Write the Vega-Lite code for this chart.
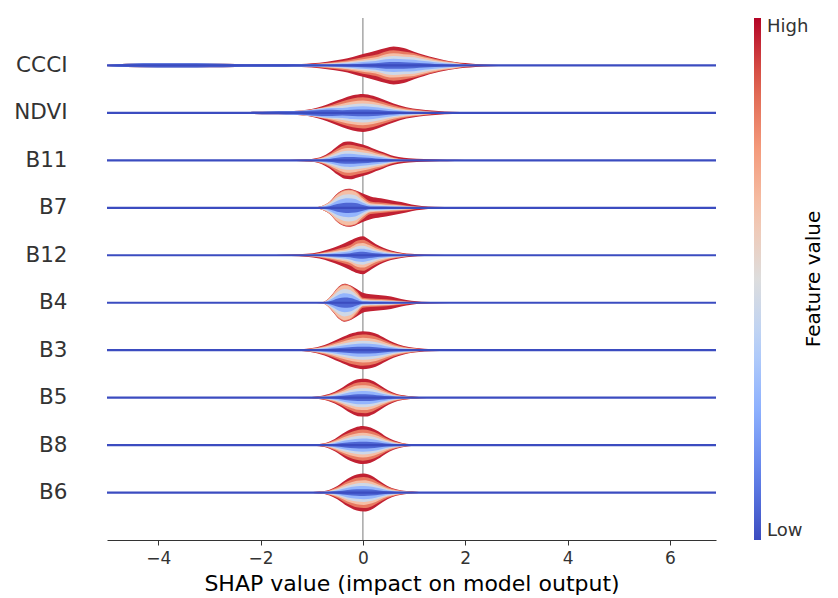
{
"$schema":"https://vega.github.io/schema/vega-lite/v6.json",
"width":609,"height":522,
"autosize":"none",
"padding":{"left":107,"top":18,"right":122,"bottom":58},
"config":{"view":{"stroke":null},"font":"DejaVu Sans",
 "axisX":{"domainColor":"#333333","tickColor":"#333333","labelColor":"#333333","labelFontSize":17,"titleFontSize":22,"titleFontWeight":"normal","titleColor":"#000000","tickSize":5,"grid":false,"labelPadding":5,"titlePadding":7},
 "legend":{"gradientStrokeWidth":0}},
"datasets":{"v":[
{"f":"CCCI","x":-5,"a":0.01,"b":0.01,"c":0.01,"d":0.01,"e":0.01,"g":0.01},
{"f":"CCCI","x":-4.6,"a":0.035,"b":0.035,"c":0.035,"d":0.035,"e":0.035,"g":0.035},
{"f":"CCCI","x":-4.0,"a":0.045,"b":0.045,"c":0.045,"d":0.045,"e":0.045,"g":0.045},
{"f":"CCCI","x":-3.5,"a":0.045,"b":0.045,"c":0.045,"d":0.045,"e":0.045,"g":0.045},
{"f":"CCCI","x":-3.0,"a":0.04,"b":0.04,"c":0.04,"d":0.04,"e":0.04,"g":0.04},
{"f":"CCCI","x":-2.5,"a":0.03,"b":0.03,"c":0.03,"d":0.03,"e":0.03,"g":0.03},
{"f":"CCCI","x":-2.0,"a":0.025,"b":0.025,"c":0.025,"d":0.025,"e":0.025,"g":0.025},
{"f":"CCCI","x":-1.5,"a":0.025,"b":0.025,"c":0.025,"d":0.025,"e":0.025,"g":0.025},
{"f":"CCCI","x":-1.2,"a":0.03,"b":0.027,"c":0.026,"d":0.024,"e":0.023,"g":0.021},
{"f":"CCCI","x":-1.0,"a":0.045,"b":0.032,"c":0.027,"d":0.025,"e":0.023,"g":0.018},
{"f":"CCCI","x":-0.7,"a":0.08,"b":0.058,"c":0.044,"d":0.034,"e":0.024,"g":0.012},
{"f":"CCCI","x":-0.4,"a":0.13,"b":0.094,"c":0.072,"d":0.055,"e":0.039,"g":0.02},
{"f":"CCCI","x":-0.2,"a":0.18,"b":0.13,"c":0.099,"d":0.076,"e":0.054,"g":0.027},
{"f":"CCCI","x":0.0,"a":0.24,"b":0.173,"c":0.132,"d":0.101,"e":0.072,"g":0.036},
{"f":"CCCI","x":0.25,"a":0.31,"b":0.223,"c":0.171,"d":0.13,"e":0.093,"g":0.047},
{"f":"CCCI","x":0.45,"a":0.37,"b":0.296,"c":0.237,"d":0.185,"e":0.13,"g":0.067},
{"f":"CCCI","x":0.6,"a":0.4,"b":0.32,"c":0.256,"d":0.2,"e":0.14,"g":0.072},
{"f":"CCCI","x":0.8,"a":0.37,"b":0.296,"c":0.237,"d":0.185,"e":0.13,"g":0.067},
{"f":"CCCI","x":1.0,"a":0.29,"b":0.255,"c":0.22,"d":0.174,"e":0.122,"g":0.058},
{"f":"CCCI","x":1.2,"a":0.22,"b":0.194,"c":0.167,"d":0.132,"e":0.092,"g":0.044},
{"f":"CCCI","x":1.4,"a":0.16,"b":0.141,"c":0.122,"d":0.096,"e":0.067,"g":0.032},
{"f":"CCCI","x":1.6,"a":0.11,"b":0.097,"c":0.084,"d":0.066,"e":0.046,"g":0.022},
{"f":"CCCI","x":1.8,"a":0.075,"b":0.066,"c":0.057,"d":0.045,"e":0.032,"g":0.015},
{"f":"CCCI","x":2.0,"a":0.05,"b":0.03,"c":0.023,"d":0.018,"e":0.013,"g":0.006},
{"f":"CCCI","x":2.2,"a":0.03,"b":0.018,"c":0.014,"d":0.011,"e":0.008,"g":0.004},
{"f":"CCCI","x":2.5,"a":0.015,"b":0.009,"c":0.007,"d":0.005,"e":0.004,"g":0.002},
{"f":"CCCI","x":2.8,"a":0.008,"b":0.005,"c":0.004,"d":0.003,"e":0.002,"g":0.001},
{"f":"CCCI","x":3.1,"a":0,"b":0,"c":0,"d":0,"e":0,"g":0},
{"f":"NDVI","x":-2.6,"a":0.005,"b":0.005,"c":0.005,"d":0.005,"e":0.005,"g":0.005},
{"f":"NDVI","x":-2.2,"a":0.02,"b":0.02,"c":0.02,"d":0.02,"e":0.02,"g":0.02},
{"f":"NDVI","x":-1.8,"a":0.03,"b":0.03,"c":0.03,"d":0.03,"e":0.03,"g":0.03},
{"f":"NDVI","x":-1.5,"a":0.035,"b":0.035,"c":0.035,"d":0.035,"e":0.035,"g":0.035},
{"f":"NDVI","x":-1.2,"a":0.05,"b":0.048,"c":0.046,"d":0.045,"e":0.044,"g":0.04},
{"f":"NDVI","x":-1.0,"a":0.08,"b":0.072,"c":0.068,"d":0.066,"e":0.062,"g":0.052},
{"f":"NDVI","x":-0.8,"a":0.14,"b":0.115,"c":0.105,"d":0.098,"e":0.087,"g":0.063},
{"f":"NDVI","x":-0.6,"a":0.22,"b":0.172,"c":0.143,"d":0.123,"e":0.103,"g":0.066},
{"f":"NDVI","x":-0.4,"a":0.3,"b":0.246,"c":0.195,"d":0.15,"e":0.105,"g":0.054},
{"f":"NDVI","x":-0.2,"a":0.37,"b":0.303,"c":0.241,"d":0.185,"e":0.13,"g":0.067},
{"f":"NDVI","x":0.0,"a":0.4,"b":0.328,"c":0.26,"d":0.2,"e":0.14,"g":0.072},
{"f":"NDVI","x":0.2,"a":0.36,"b":0.295,"c":0.234,"d":0.18,"e":0.126,"g":0.065},
{"f":"NDVI","x":0.4,"a":0.28,"b":0.23,"c":0.182,"d":0.14,"e":0.098,"g":0.05},
{"f":"NDVI","x":0.6,"a":0.2,"b":0.16,"c":0.124,"d":0.094,"e":0.066,"g":0.034},
{"f":"NDVI","x":0.85,"a":0.12,"b":0.096,"c":0.074,"d":0.056,"e":0.04,"g":0.02},
{"f":"NDVI","x":1.1,"a":0.075,"b":0.06,"c":0.047,"d":0.035,"e":0.025,"g":0.013},
{"f":"NDVI","x":1.35,"a":0.05,"b":0.03,"c":0.023,"d":0.018,"e":0.013,"g":0.006},
{"f":"NDVI","x":1.6,"a":0.03,"b":0.018,"c":0.014,"d":0.011,"e":0.008,"g":0.004},
{"f":"NDVI","x":1.9,"a":0.02,"b":0.012,"c":0.009,"d":0.007,"e":0.005,"g":0.002},
{"f":"NDVI","x":2.3,"a":0.012,"b":0.007,"c":0.005,"d":0.004,"e":0.003,"g":0.001},
{"f":"NDVI","x":2.7,"a":0.008,"b":0.005,"c":0.004,"d":0.003,"e":0.002,"g":0.001},
{"f":"NDVI","x":3.1,"a":0,"b":0,"c":0,"d":0,"e":0,"g":0},
{"f":"B11","x":-2.0,"a":0,"b":0,"c":0,"d":0,"e":0,"g":0},
{"f":"B11","x":-1.6,"a":0.008,"b":0.007,"c":0.005,"d":0.004,"e":0.003,"g":0.001},
{"f":"B11","x":-1.3,"a":0.015,"b":0.012,"c":0.01,"d":0.008,"e":0.005,"g":0.003},
{"f":"B11","x":-1.0,"a":0.03,"b":0.025,"c":0.02,"d":0.015,"e":0.011,"g":0.005},
{"f":"B11","x":-0.8,"a":0.08,"b":0.066,"c":0.052,"d":0.04,"e":0.028,"g":0.014},
{"f":"B11","x":-0.65,"a":0.17,"b":0.139,"c":0.111,"d":0.085,"e":0.06,"g":0.031},
{"f":"B11","x":-0.5,"a":0.3,"b":0.246,"c":0.195,"d":0.15,"e":0.105,"g":0.054},
{"f":"B11","x":-0.35,"a":0.39,"b":0.32,"c":0.254,"d":0.195,"e":0.137,"g":0.07},
{"f":"B11","x":-0.25,"a":0.4,"b":0.328,"c":0.26,"d":0.2,"e":0.14,"g":0.072},
{"f":"B11","x":-0.1,"a":0.36,"b":0.295,"c":0.234,"d":0.18,"e":0.126,"g":0.065},
{"f":"B11","x":0.1,"a":0.3,"b":0.246,"c":0.195,"d":0.15,"e":0.105,"g":0.054},
{"f":"B11","x":0.25,"a":0.23,"b":0.189,"c":0.15,"d":0.115,"e":0.081,"g":0.041},
{"f":"B11","x":0.4,"a":0.17,"b":0.139,"c":0.111,"d":0.085,"e":0.06,"g":0.031},
{"f":"B11","x":0.55,"a":0.11,"b":0.077,"c":0.061,"d":0.046,"e":0.033,"g":0.017},
{"f":"B11","x":0.7,"a":0.07,"b":0.039,"c":0.029,"d":0.022,"e":0.015,"g":0.008},
{"f":"B11","x":0.9,"a":0.045,"b":0.018,"c":0.014,"d":0.01,"e":0.007,"g":0.004},
{"f":"B11","x":1.2,"a":0.03,"b":0.012,"c":0.009,"d":0.007,"e":0.005,"g":0.002},
{"f":"B11","x":1.5,"a":0.02,"b":0.008,"c":0.006,"d":0.004,"e":0.003,"g":0.002},
{"f":"B11","x":1.8,"a":0.013,"b":0.005,"c":0.004,"d":0.003,"e":0.002,"g":0.001},
{"f":"B11","x":2.2,"a":0.005,"b":0.002,"c":0.002,"d":0.001,"e":0.001,"g":0},
{"f":"B11","x":2.5,"a":0,"b":0,"c":0,"d":0,"e":0,"g":0},
{"f":"B7","x":-1.2,"a":0,"b":0,"c":0,"d":0,"e":0,"g":0},
{"f":"B7","x":-0.95,"a":0.01,"b":0.01,"c":0.009,"d":0.007,"e":0.005,"g":0.003},
{"f":"B7","x":-0.8,"a":0.04,"b":0.039,"c":0.037,"d":0.029,"e":0.02,"g":0.011},
{"f":"B7","x":-0.65,"a":0.13,"b":0.126,"c":0.12,"d":0.094,"e":0.065,"g":0.035},
{"f":"B7","x":-0.5,"a":0.3,"b":0.291,"c":0.276,"d":0.216,"e":0.15,"g":0.081},
{"f":"B7","x":-0.38,"a":0.38,"b":0.369,"c":0.35,"d":0.274,"e":0.19,"g":0.103},
{"f":"B7","x":-0.28,"a":0.4,"b":0.388,"c":0.368,"d":0.288,"e":0.2,"g":0.108},
{"f":"B7","x":-0.15,"a":0.37,"b":0.359,"c":0.34,"d":0.266,"e":0.185,"g":0.1},
{"f":"B7","x":0.0,"a":0.3,"b":0.24,"c":0.195,"d":0.15,"e":0.105,"g":0.06},
{"f":"B7","x":0.15,"a":0.24,"b":0.132,"c":0.096,"d":0.072,"e":0.048,"g":0.024},
{"f":"B7","x":0.35,"a":0.2,"b":0.11,"c":0.08,"d":0.06,"e":0.04,"g":0.02},
{"f":"B7","x":0.55,"a":0.16,"b":0.088,"c":0.064,"d":0.048,"e":0.032,"g":0.016},
{"f":"B7","x":0.75,"a":0.12,"b":0.066,"c":0.048,"d":0.036,"e":0.024,"g":0.012},
{"f":"B7","x":0.95,"a":0.07,"b":0.039,"c":0.028,"d":0.021,"e":0.014,"g":0.007},
{"f":"B7","x":1.15,"a":0.04,"b":0.022,"c":0.016,"d":0.012,"e":0.008,"g":0.004},
{"f":"B7","x":1.4,"a":0.02,"b":0.01,"c":0.008,"d":0.006,"e":0.004,"g":0.002},
{"f":"B7","x":1.8,"a":0.01,"b":0.005,"c":0.004,"d":0.003,"e":0.002,"g":0.001},
{"f":"B7","x":2.2,"a":0.004,"b":0.002,"c":0.002,"d":0.001,"e":0.001,"g":0},
{"f":"B7","x":2.5,"a":0,"b":0,"c":0,"d":0,"e":0,"g":0},
{"f":"B12","x":-2.1,"a":0,"b":0,"c":0,"d":0,"e":0,"g":0},
{"f":"B12","x":-1.7,"a":0.008,"b":0.005,"c":0.004,"d":0.003,"e":0.002,"g":0.001},
{"f":"B12","x":-1.4,"a":0.015,"b":0.009,"c":0.007,"d":0.005,"e":0.004,"g":0.002},
{"f":"B12","x":-1.1,"a":0.03,"b":0.018,"c":0.014,"d":0.011,"e":0.008,"g":0.004},
{"f":"B12","x":-0.85,"a":0.07,"b":0.049,"c":0.036,"d":0.028,"e":0.02,"g":0.01},
{"f":"B12","x":-0.65,"a":0.13,"b":0.091,"c":0.068,"d":0.052,"e":0.036,"g":0.018},
{"f":"B12","x":-0.45,"a":0.21,"b":0.147,"c":0.109,"d":0.084,"e":0.059,"g":0.029},
{"f":"B12","x":-0.25,"a":0.31,"b":0.217,"c":0.161,"d":0.124,"e":0.087,"g":0.043},
{"f":"B12","x":-0.1,"a":0.38,"b":0.312,"c":0.247,"d":0.19,"e":0.133,"g":0.068},
{"f":"B12","x":0.0,"a":0.4,"b":0.328,"c":0.26,"d":0.2,"e":0.14,"g":0.072},
{"f":"B12","x":0.12,"a":0.33,"b":0.271,"c":0.215,"d":0.165,"e":0.116,"g":0.059},
{"f":"B12","x":0.25,"a":0.24,"b":0.192,"c":0.149,"d":0.113,"e":0.079,"g":0.041},
{"f":"B12","x":0.4,"a":0.16,"b":0.128,"c":0.099,"d":0.075,"e":0.053,"g":0.027},
{"f":"B12","x":0.55,"a":0.1,"b":0.08,"c":0.062,"d":0.047,"e":0.033,"g":0.017},
{"f":"B12","x":0.75,"a":0.055,"b":0.044,"c":0.034,"d":0.026,"e":0.018,"g":0.009},
{"f":"B12","x":0.95,"a":0.03,"b":0.015,"c":0.011,"d":0.008,"e":0.006,"g":0.003},
{"f":"B12","x":1.2,"a":0.015,"b":0.008,"c":0.006,"d":0.004,"e":0.003,"g":0.002},
{"f":"B12","x":1.6,"a":0.006,"b":0.003,"c":0.002,"d":0.002,"e":0.001,"g":0.001},
{"f":"B12","x":2.0,"a":0,"b":0,"c":0,"d":0,"e":0,"g":0},
{"f":"B4","x":-1.0,"a":0,"b":0,"c":0,"d":0,"e":0,"g":0},
{"f":"B4","x":-0.8,"a":0.01,"b":0.01,"c":0.009,"d":0.007,"e":0.005,"g":0.003},
{"f":"B4","x":-0.68,"a":0.08,"b":0.078,"c":0.074,"d":0.058,"e":0.04,"g":0.022},
{"f":"B4","x":-0.58,"a":0.2,"b":0.194,"c":0.184,"d":0.144,"e":0.1,"g":0.054},
{"f":"B4","x":-0.47,"a":0.34,"b":0.33,"c":0.313,"d":0.245,"e":0.17,"g":0.092},
{"f":"B4","x":-0.36,"a":0.4,"b":0.388,"c":0.368,"d":0.288,"e":0.2,"g":0.108},
{"f":"B4","x":-0.25,"a":0.37,"b":0.359,"c":0.34,"d":0.266,"e":0.185,"g":0.1},
{"f":"B4","x":-0.12,"a":0.29,"b":0.247,"c":0.203,"d":0.16,"e":0.11,"g":0.058},
{"f":"B4","x":0.0,"a":0.21,"b":0.105,"c":0.076,"d":0.057,"e":0.038,"g":0.019},
{"f":"B4","x":0.15,"a":0.18,"b":0.09,"c":0.065,"d":0.049,"e":0.032,"g":0.016},
{"f":"B4","x":0.35,"a":0.16,"b":0.08,"c":0.058,"d":0.043,"e":0.029,"g":0.014},
{"f":"B4","x":0.55,"a":0.13,"b":0.065,"c":0.047,"d":0.035,"e":0.023,"g":0.012},
{"f":"B4","x":0.75,"a":0.08,"b":0.04,"c":0.029,"d":0.022,"e":0.014,"g":0.007},
{"f":"B4","x":0.95,"a":0.04,"b":0.02,"c":0.014,"d":0.011,"e":0.007,"g":0.004},
{"f":"B4","x":1.15,"a":0.02,"b":0.01,"c":0.007,"d":0.005,"e":0.004,"g":0.002},
{"f":"B4","x":1.5,"a":0.01,"b":0.005,"c":0.004,"d":0.003,"e":0.002,"g":0.001},
{"f":"B4","x":1.9,"a":0.005,"b":0.003,"c":0.002,"d":0.001,"e":0.001,"g":0},
{"f":"B4","x":2.3,"a":0,"b":0,"c":0,"d":0,"e":0,"g":0},
{"f":"B3","x":-1.9,"a":0,"b":0,"c":0,"d":0,"e":0,"g":0},
{"f":"B3","x":-1.6,"a":0.005,"b":0.003,"c":0.002,"d":0.002,"e":0.001,"g":0.001},
{"f":"B3","x":-1.35,"a":0.012,"b":0.007,"c":0.005,"d":0.004,"e":0.003,"g":0.001},
{"f":"B3","x":-1.05,"a":0.035,"b":0.029,"c":0.023,"d":0.018,"e":0.012,"g":0.006},
{"f":"B3","x":-0.75,"a":0.11,"b":0.09,"c":0.072,"d":0.055,"e":0.039,"g":0.02},
{"f":"B3","x":-0.45,"a":0.25,"b":0.205,"c":0.163,"d":0.125,"e":0.088,"g":0.045},
{"f":"B3","x":-0.2,"a":0.36,"b":0.295,"c":0.234,"d":0.18,"e":0.126,"g":0.065},
{"f":"B3","x":0.0,"a":0.4,"b":0.328,"c":0.26,"d":0.2,"e":0.14,"g":0.072},
{"f":"B3","x":0.25,"a":0.35,"b":0.287,"c":0.228,"d":0.175,"e":0.123,"g":0.063},
{"f":"B3","x":0.45,"a":0.24,"b":0.197,"c":0.156,"d":0.12,"e":0.084,"g":0.043},
{"f":"B3","x":0.6,"a":0.16,"b":0.131,"c":0.104,"d":0.08,"e":0.056,"g":0.029},
{"f":"B3","x":0.8,"a":0.09,"b":0.074,"c":0.059,"d":0.045,"e":0.032,"g":0.016},
{"f":"B3","x":1.0,"a":0.05,"b":0.041,"c":0.033,"d":0.025,"e":0.018,"g":0.009},
{"f":"B3","x":1.2,"a":0.03,"b":0.018,"c":0.014,"d":0.011,"e":0.008,"g":0.004},
{"f":"B3","x":1.5,"a":0.015,"b":0.009,"c":0.007,"d":0.005,"e":0.004,"g":0.002},
{"f":"B3","x":1.9,"a":0.005,"b":0.003,"c":0.002,"d":0.002,"e":0.001,"g":0.001},
{"f":"B3","x":2.3,"a":0,"b":0,"c":0,"d":0,"e":0,"g":0},
{"f":"B5","x":-1.6,"a":0,"b":0,"c":0,"d":0,"e":0,"g":0},
{"f":"B5","x":-1.3,"a":0.006,"b":0.005,"c":0.004,"d":0.003,"e":0.002,"g":0.001},
{"f":"B5","x":-1.0,"a":0.015,"b":0.012,"c":0.01,"d":0.008,"e":0.005,"g":0.003},
{"f":"B5","x":-0.8,"a":0.04,"b":0.033,"c":0.026,"d":0.02,"e":0.014,"g":0.007},
{"f":"B5","x":-0.65,"a":0.08,"b":0.066,"c":0.052,"d":0.04,"e":0.028,"g":0.014},
{"f":"B5","x":-0.45,"a":0.18,"b":0.148,"c":0.117,"d":0.09,"e":0.063,"g":0.032},
{"f":"B5","x":-0.25,"a":0.32,"b":0.262,"c":0.208,"d":0.16,"e":0.112,"g":0.058},
{"f":"B5","x":-0.1,"a":0.39,"b":0.32,"c":0.254,"d":0.195,"e":0.137,"g":0.07},
{"f":"B5","x":0.05,"a":0.4,"b":0.328,"c":0.26,"d":0.2,"e":0.14,"g":0.072},
{"f":"B5","x":0.2,"a":0.35,"b":0.287,"c":0.228,"d":0.175,"e":0.123,"g":0.063},
{"f":"B5","x":0.35,"a":0.25,"b":0.205,"c":0.163,"d":0.125,"e":0.088,"g":0.045},
{"f":"B5","x":0.5,"a":0.15,"b":0.123,"c":0.098,"d":0.075,"e":0.053,"g":0.027},
{"f":"B5","x":0.65,"a":0.08,"b":0.066,"c":0.052,"d":0.04,"e":0.028,"g":0.014},
{"f":"B5","x":0.85,"a":0.04,"b":0.033,"c":0.026,"d":0.02,"e":0.014,"g":0.007},
{"f":"B5","x":1.1,"a":0.015,"b":0.012,"c":0.01,"d":0.008,"e":0.005,"g":0.003},
{"f":"B5","x":1.4,"a":0.008,"b":0.007,"c":0.005,"d":0.004,"e":0.003,"g":0.001},
{"f":"B5","x":1.8,"a":0,"b":0,"c":0,"d":0,"e":0,"g":0},
{"f":"B8","x":-1.5,"a":0,"b":0,"c":0,"d":0,"e":0,"g":0},
{"f":"B8","x":-1.2,"a":0.006,"b":0.005,"c":0.004,"d":0.003,"e":0.002,"g":0.001},
{"f":"B8","x":-0.95,"a":0.015,"b":0.012,"c":0.01,"d":0.008,"e":0.005,"g":0.003},
{"f":"B8","x":-0.75,"a":0.04,"b":0.033,"c":0.026,"d":0.02,"e":0.014,"g":0.007},
{"f":"B8","x":-0.55,"a":0.13,"b":0.107,"c":0.085,"d":0.065,"e":0.046,"g":0.023},
{"f":"B8","x":-0.35,"a":0.27,"b":0.221,"c":0.176,"d":0.135,"e":0.095,"g":0.049},
{"f":"B8","x":-0.15,"a":0.37,"b":0.303,"c":0.241,"d":0.185,"e":0.13,"g":0.067},
{"f":"B8","x":0.0,"a":0.4,"b":0.328,"c":0.26,"d":0.2,"e":0.14,"g":0.072},
{"f":"B8","x":0.15,"a":0.37,"b":0.303,"c":0.241,"d":0.185,"e":0.13,"g":0.067},
{"f":"B8","x":0.3,"a":0.29,"b":0.238,"c":0.189,"d":0.145,"e":0.102,"g":0.052},
{"f":"B8","x":0.45,"a":0.18,"b":0.148,"c":0.117,"d":0.09,"e":0.063,"g":0.032},
{"f":"B8","x":0.6,"a":0.1,"b":0.082,"c":0.065,"d":0.05,"e":0.035,"g":0.018},
{"f":"B8","x":0.75,"a":0.05,"b":0.041,"c":0.033,"d":0.025,"e":0.018,"g":0.009},
{"f":"B8","x":0.95,"a":0.02,"b":0.016,"c":0.013,"d":0.01,"e":0.007,"g":0.004},
{"f":"B8","x":1.2,"a":0.01,"b":0.008,"c":0.007,"d":0.005,"e":0.004,"g":0.002},
{"f":"B8","x":1.6,"a":0.004,"b":0.003,"c":0.003,"d":0.002,"e":0.001,"g":0.001},
{"f":"B8","x":1.9,"a":0,"b":0,"c":0,"d":0,"e":0,"g":0},
{"f":"B6","x":-1.4,"a":0,"b":0,"c":0,"d":0,"e":0,"g":0},
{"f":"B6","x":-1.1,"a":0.006,"b":0.005,"c":0.004,"d":0.003,"e":0.002,"g":0.001},
{"f":"B6","x":-0.85,"a":0.02,"b":0.016,"c":0.013,"d":0.01,"e":0.007,"g":0.004},
{"f":"B6","x":-0.65,"a":0.06,"b":0.049,"c":0.039,"d":0.03,"e":0.021,"g":0.011},
{"f":"B6","x":-0.5,"a":0.14,"b":0.115,"c":0.091,"d":0.07,"e":0.049,"g":0.025},
{"f":"B6","x":-0.3,"a":0.29,"b":0.238,"c":0.189,"d":0.145,"e":0.102,"g":0.052},
{"f":"B6","x":-0.12,"a":0.38,"b":0.312,"c":0.247,"d":0.19,"e":0.133,"g":0.068},
{"f":"B6","x":0.02,"a":0.4,"b":0.328,"c":0.26,"d":0.2,"e":0.14,"g":0.072},
{"f":"B6","x":0.18,"a":0.35,"b":0.287,"c":0.228,"d":0.175,"e":0.123,"g":0.063},
{"f":"B6","x":0.32,"a":0.25,"b":0.205,"c":0.163,"d":0.125,"e":0.088,"g":0.045},
{"f":"B6","x":0.48,"a":0.14,"b":0.115,"c":0.091,"d":0.07,"e":0.049,"g":0.025},
{"f":"B6","x":0.65,"a":0.07,"b":0.057,"c":0.046,"d":0.035,"e":0.025,"g":0.013},
{"f":"B6","x":0.85,"a":0.03,"b":0.025,"c":0.02,"d":0.015,"e":0.011,"g":0.005},
{"f":"B6","x":1.1,"a":0.012,"b":0.01,"c":0.008,"d":0.006,"e":0.004,"g":0.002},
{"f":"B6","x":1.5,"a":0.005,"b":0.004,"c":0.003,"d":0.003,"e":0.002,"g":0.001},
{"f":"B6","x":1.9,"a":0,"b":0,"c":0,"d":0,"e":0,"g":0}
],
"keys":[{"k":"a","v":0.96},{"k":"b","v":0.82},{"k":"c","v":0.64},{"k":"d","v":0.45},{"k":"e","v":0.27},{"k":"g","v":0.06}],
"feats":[{"f":"CCCI"},{"f":"NDVI"},{"f":"B11"},{"f":"B7"},{"f":"B12"},{"f":"B4"},{"f":"B3"},{"f":"B5"},{"f":"B8"},{"f":"B6"}]
},
"layer":[
{"data":{"values":[{}]},"mark":{"type":"rule","color":"#999999","strokeWidth":1.3},
 "encoding":{"x":{"datum":0,"type":"quantitative","scale":{"domain":[-5,6.9],"nice":false,"zero":false},"title":"SHAP value (impact on model output)","axis":{"values":[-4,-2,0,2,4,6]}}}},
{"data":{"name":"v"},
 "transform":[{"fold":["a","b","c","d","e","g"],"as":["k","w"]},{"lookup":"k","from":{"data":{"name":"keys"},"key":"k","fields":["v"]}}],
 "encoding":{
  "x":{"field":"x","type":"quantitative","scale":{"domain":[-5,6.9],"nice":false,"zero":false},"title":"SHAP value (impact on model output)","axis":{"values":[-4,-2,0,2,4,6]}},
  "color":{"field":"v","type":"quantitative",
   "scale":{"domain":[0,0.125,0.25,0.375,0.5,0.625,0.75,0.875,1],"range":["#3b4cc0","#6282ea","#8db0fe","#b8d0f9","#dddddd","#f5c4ac","#f49a7b","#de604d","#b40426"],"interpolate":"rgb"},
   "legend":{"type":"gradient","direction":"vertical","orient":"right","offset":38,"gradientLength":522,"gradientThickness":7,"values":[0,1],"labelExpr":"datum.value === 0 ? 'Low' : 'High'","labelFontSize":18,"labelColor":"#333333","labelBaseline":"middle","labelOffset":6,"title":"Feature value","titleOrient":"right","titleAnchor":"middle","titleFontSize":20,"titleFontWeight":"normal","titleColor":"#000000","titlePadding":16,
    "encode":{"title":{"update":{"angle":{"value":270}}}}}}},
 "layer":[
  {"transform":[{"filter":{"field":"f","equal":"CCCI"}}],"layer":[
   {"mark":{"type":"area","interpolate":"monotone"},"encoding":{"y":{"field":"w","type":"quantitative","stack":null,"scale":{"domain":[-10,1],"nice":false,"zero":false},"axis":null},"y2":{"datum":0}}},
   {"mark":{"type":"area","interpolate":"monotone"},"encoding":{"y":{"field":"w","type":"quantitative","stack":null,"scale":{"domain":[-1,10],"reverse":true,"nice":false,"zero":false},"axis":null},"y2":{"datum":0}}}
  ],"resolve":{"scale":{"y":"independent"}}},
  {"transform":[{"filter":{"field":"f","equal":"NDVI"}}],"layer":[
   {"mark":{"type":"area","interpolate":"monotone"},"encoding":{"y":{"field":"w","type":"quantitative","stack":null,"scale":{"domain":[-9,2],"nice":false,"zero":false},"axis":null},"y2":{"datum":0}}},
   {"mark":{"type":"area","interpolate":"monotone"},"encoding":{"y":{"field":"w","type":"quantitative","stack":null,"scale":{"domain":[-2,9],"reverse":true,"nice":false,"zero":false},"axis":null},"y2":{"datum":0}}}
  ],"resolve":{"scale":{"y":"independent"}}},
  {"transform":[{"filter":{"field":"f","equal":"B11"}}],"layer":[
   {"mark":{"type":"area","interpolate":"monotone"},"encoding":{"y":{"field":"w","type":"quantitative","stack":null,"scale":{"domain":[-8,3],"nice":false,"zero":false},"axis":null},"y2":{"datum":0}}},
   {"mark":{"type":"area","interpolate":"monotone"},"encoding":{"y":{"field":"w","type":"quantitative","stack":null,"scale":{"domain":[-3,8],"reverse":true,"nice":false,"zero":false},"axis":null},"y2":{"datum":0}}}
  ],"resolve":{"scale":{"y":"independent"}}},
  {"transform":[{"filter":{"field":"f","equal":"B7"}}],"layer":[
   {"mark":{"type":"area","interpolate":"monotone"},"encoding":{"y":{"field":"w","type":"quantitative","stack":null,"scale":{"domain":[-7,4],"nice":false,"zero":false},"axis":null},"y2":{"datum":0}}},
   {"mark":{"type":"area","interpolate":"monotone"},"encoding":{"y":{"field":"w","type":"quantitative","stack":null,"scale":{"domain":[-4,7],"reverse":true,"nice":false,"zero":false},"axis":null},"y2":{"datum":0}}}
  ],"resolve":{"scale":{"y":"independent"}}},
  {"transform":[{"filter":{"field":"f","equal":"B12"}}],"layer":[
   {"mark":{"type":"area","interpolate":"monotone"},"encoding":{"y":{"field":"w","type":"quantitative","stack":null,"scale":{"domain":[-6,5],"nice":false,"zero":false},"axis":null},"y2":{"datum":0}}},
   {"mark":{"type":"area","interpolate":"monotone"},"encoding":{"y":{"field":"w","type":"quantitative","stack":null,"scale":{"domain":[-5,6],"reverse":true,"nice":false,"zero":false},"axis":null},"y2":{"datum":0}}}
  ],"resolve":{"scale":{"y":"independent"}}},
  {"transform":[{"filter":{"field":"f","equal":"B4"}}],"layer":[
   {"mark":{"type":"area","interpolate":"monotone"},"encoding":{"y":{"field":"w","type":"quantitative","stack":null,"scale":{"domain":[-5,6],"nice":false,"zero":false},"axis":null},"y2":{"datum":0}}},
   {"mark":{"type":"area","interpolate":"monotone"},"encoding":{"y":{"field":"w","type":"quantitative","stack":null,"scale":{"domain":[-6,5],"reverse":true,"nice":false,"zero":false},"axis":null},"y2":{"datum":0}}}
  ],"resolve":{"scale":{"y":"independent"}}},
  {"transform":[{"filter":{"field":"f","equal":"B3"}}],"layer":[
   {"mark":{"type":"area","interpolate":"monotone"},"encoding":{"y":{"field":"w","type":"quantitative","stack":null,"scale":{"domain":[-4,7],"nice":false,"zero":false},"axis":null},"y2":{"datum":0}}},
   {"mark":{"type":"area","interpolate":"monotone"},"encoding":{"y":{"field":"w","type":"quantitative","stack":null,"scale":{"domain":[-7,4],"reverse":true,"nice":false,"zero":false},"axis":null},"y2":{"datum":0}}}
  ],"resolve":{"scale":{"y":"independent"}}},
  {"transform":[{"filter":{"field":"f","equal":"B5"}}],"layer":[
   {"mark":{"type":"area","interpolate":"monotone"},"encoding":{"y":{"field":"w","type":"quantitative","stack":null,"scale":{"domain":[-3,8],"nice":false,"zero":false},"axis":null},"y2":{"datum":0}}},
   {"mark":{"type":"area","interpolate":"monotone"},"encoding":{"y":{"field":"w","type":"quantitative","stack":null,"scale":{"domain":[-8,3],"reverse":true,"nice":false,"zero":false},"axis":null},"y2":{"datum":0}}}
  ],"resolve":{"scale":{"y":"independent"}}},
  {"transform":[{"filter":{"field":"f","equal":"B8"}}],"layer":[
   {"mark":{"type":"area","interpolate":"monotone"},"encoding":{"y":{"field":"w","type":"quantitative","stack":null,"scale":{"domain":[-2,9],"nice":false,"zero":false},"axis":null},"y2":{"datum":0}}},
   {"mark":{"type":"area","interpolate":"monotone"},"encoding":{"y":{"field":"w","type":"quantitative","stack":null,"scale":{"domain":[-9,2],"reverse":true,"nice":false,"zero":false},"axis":null},"y2":{"datum":0}}}
  ],"resolve":{"scale":{"y":"independent"}}},
  {"transform":[{"filter":{"field":"f","equal":"B6"}}],"layer":[
   {"mark":{"type":"area","interpolate":"monotone"},"encoding":{"y":{"field":"w","type":"quantitative","stack":null,"scale":{"domain":[-1,10],"nice":false,"zero":false},"axis":null},"y2":{"datum":0}}},
   {"mark":{"type":"area","interpolate":"monotone"},"encoding":{"y":{"field":"w","type":"quantitative","stack":null,"scale":{"domain":[-10,1],"reverse":true,"nice":false,"zero":false},"axis":null},"y2":{"datum":0}}}
  ],"resolve":{"scale":{"y":"independent"}}}
 ],
 "resolve":{"scale":{"y":"independent"}}},
{"data":{"name":"feats"},"mark":{"type":"rule","color":"#3b4cc0","strokeWidth":2.2},
 "encoding":{"y":{"field":"f","type":"nominal","scale":{"type":"point","padding":1,"domain":["CCCI","NDVI","B11","B7","B12","B4","B3","B5","B8","B6"]},
   "axis":{"title":null,"domain":false,"ticks":false,"labelFontSize":21.5,"labelColor":"#333333","labelPadding":40}}}}
],
"resolve":{"scale":{"y":"independent"}}
}
